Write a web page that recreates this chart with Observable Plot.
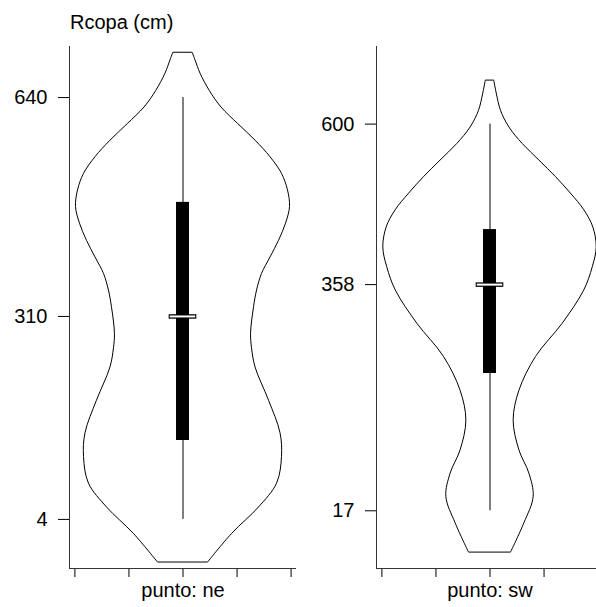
<!DOCTYPE html>
<html><head><meta charset="utf-8">
<script src="https://cdn.jsdelivr.net/npm/d3@7"></script>
<script src="https://cdn.jsdelivr.net/npm/@observablehq/plot@0.6"></script>
<style>
html,body{margin:0;padding:0;background:#fff;overflow:hidden;width:596px;height:607px}
#wrap{position:relative;width:596px;height:607px;overflow:hidden}
.panel{position:absolute;top:0}
#title{position:absolute;left:70px;top:11px;font:20px "Liberation Sans",Arial,sans-serif;color:#000;white-space:nowrap}
</style></head><body>
<div id="wrap"><div id="title">Rcopa (cm)</div></div>
<script>
// ---- data ----
const groups = ["ne", "sw"];
const axisLabelPrefix = "punto: ";
const yTicksNe = [4, 310, 640];
const yTicksSw = [17, 358, 600];
const xTicks = [-2, -1, 0, 1, 2];

// density outline (value, relative density, max = 1)
const neValues  = [707, 696, 676, 650, 625, 600, 575, 550, 525, 500, 475, 450, 424, 399, 374, 349, 324, 284, 262, 233, 183, 134, 98, 58, 22, -18, -61];
const neDensity = [0.092, 0.117, 0.164, 0.25, 0.36, 0.516, 0.678, 0.818, 0.925, 0.981, 1.0, 0.963, 0.897, 0.818, 0.738, 0.692, 0.664, 0.636, 0.645, 0.678, 0.804, 0.911, 0.925, 0.879, 0.71, 0.458, 0.234];
const swValues  = [665, 646, 620, 595, 570, 545, 520, 495, 470, 444, 414, 384, 349, 299, 249, 198, 153, 108, 73, 38, -2, -46];
const swDensity = [0.04, 0.063, 0.103, 0.181, 0.306, 0.462, 0.617, 0.757, 0.882, 0.966, 0.997, 0.96, 0.88, 0.679, 0.43, 0.275, 0.221, 0.275, 0.368, 0.408, 0.321, 0.196];

// box statistics
const neStats = {min: 4, q1: 123, median: 310, q3: 482, max: 640};
const swStats = {min: 17, q1: 224, median: 358, q3: 441, max: 600};

// ---- layout / style ----
const yDomain = [-70, 717];
const xDomain = [-2.1, 2.1];
const VIOLIN_HALF = 1.98;
const BOX_HALF = 0.12;
const MED_HALF = 0.256;
const FONT = '"Liberation Sans", Arial, sans-serif';

function panel(name, values, dens, stats, ticks, marginLeft, width) {
  const violin = values.map((v, i) => ({v, w: dens[i] * VIOLIN_HALF}));
  return Plot.plot({
    width, height: 607,
    marginLeft, marginRight: width - marginLeft - 227, marginTop: 46, marginBottom: 39,
    style: {fontFamily: FONT, fontSize: "20px", background: "transparent", color: "black", overflow: "visible"},
    x: {domain: xDomain, ticks: xTicks, tickSize: 9, tickPadding: 5, label: null,
        tickFormat: d => d === 0 ? axisLabelPrefix + name : ""},
    y: {domain: yDomain, ticks: ticks, tickSize: 11, tickPadding: 11, label: null, tickFormat: d => String(d)},
    marks: [
      Plot.areaX(violin, {y: "v", x1: d => -d.w, x2: d => d.w, curve: "catmull-rom", fill: "none", stroke: "black", strokeWidth: 1}),
      Plot.ruleX([0], {y1: stats.min, y2: stats.max, stroke: "black", strokeWidth: 1}),
      Plot.rect([stats], {x1: -BOX_HALF, x2: BOX_HALF, y1: "q1", y2: "q3", fill: "black"}),
      Plot.ruleY([stats.median], {x1: -MED_HALF, x2: MED_HALF, stroke: "black", strokeWidth: 4.5}),
      Plot.ruleY([stats.median], {x1: -MED_HALF + 0.02, x2: MED_HALF - 0.02, stroke: "white", strokeWidth: 2}),
      Plot.ruleX([xDomain[0]], {stroke: "#333"}),
      Plot.ruleY([yDomain[0]], {stroke: "#333"})
    ]
  });
}

const wrap = document.getElementById("wrap");
const p1 = panel(groups[0], neValues, neDensity, neStats, yTicksNe, 69, 300);
p1.classList.add("panel"); p1.style.left = "0px";
const p2 = panel(groups[1], swValues, swDensity, swStats, yTicksSw, 76, 303);
p2.classList.add("panel"); p2.style.left = "300px";
wrap.appendChild(p1);
wrap.appendChild(p2);
</script>
</body></html>
